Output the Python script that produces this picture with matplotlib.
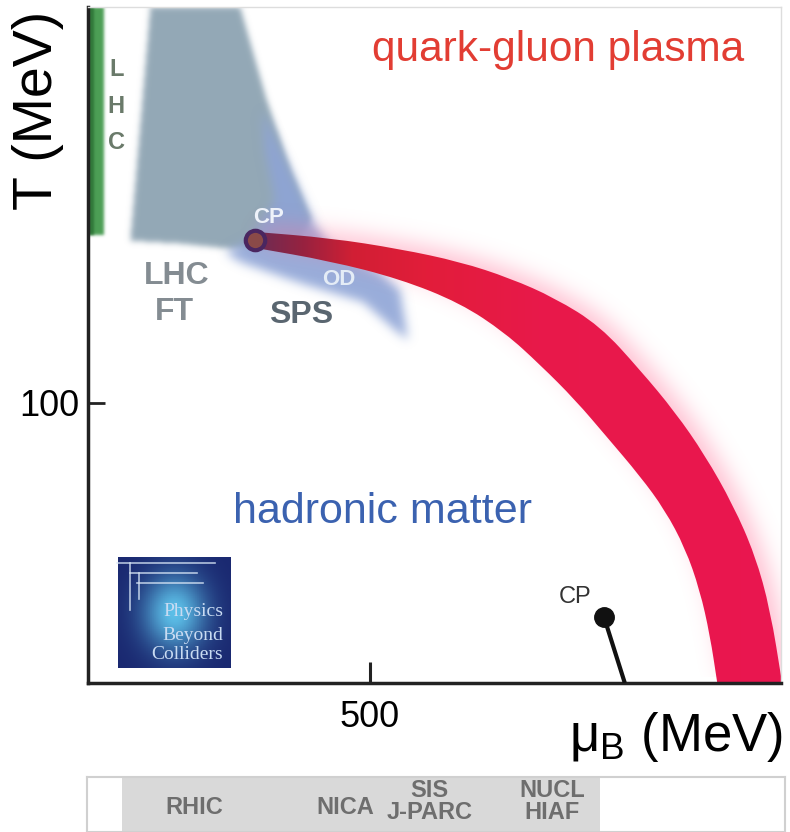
# QCD phase diagram sketch
import numpy as np
import matplotlib
matplotlib.use('Agg')
import matplotlib.pyplot as plt
from matplotlib.path import Path
from matplotlib.patches import PathPatch
from matplotlib.colors import to_rgb

plt.rcParams['font.family'] = ['Liberation Sans', 'DejaVu Sans']
plt.rcParams['mathtext.fontset'] = 'custom'
plt.rcParams['mathtext.rm'] = 'Liberation Sans'
plt.rcParams['mathtext.it'] = 'Liberation Sans'

# --- data (mu_B, T in MeV) ---
band_outer_mu = [296, 429, 553, 660, 748, 828, 908, 979, 1041, 1094, 1144, 1183, 1210, 1231]
band_outer_T = [161.1, 158.9, 155, 150.4, 144.6, 137.5, 127.5, 111.8, 96.8, 81.4, 63.6, 45.7, 26.1, 0]
band_inner_mu = [296, 429, 553, 660, 740, 802, 864, 920, 979, 1023, 1059, 1085, 1103, 1116]
band_inner_T = [155.4, 150.7, 144.3, 135.7, 125, 113.6, 101.1, 87.9, 73.9, 61.8, 48.2, 33.2, 17.1, 0]

lhcft_mu = [110, 269.5, 317, 358, 394, 376, 296, 257, 163, 74.5]
lhcft_T = [241.4, 241.4, 208, 184, 166, 158, 155, 155, 157, 158]

sps_mu = [308.5, 358.2, 402.5, 429, 517.7, 553.2, 567.4, 544.3, 487.6, 370.6, 269.5, 242.9, 287.2, 331.6, 313.8]
sps_T = [204.6, 183.2, 163.6, 156.4, 146.8, 140.4, 122.5, 126.1, 136.1, 143.2, 150.4, 153.9, 158.2, 172.5, 190.4]

lhc_mu = [0, 27, 27, 0]
lhc_T = [160, 160, 241.4, 241.4]

cp_qcd = (296, 158.2)
cp_nucl = (915, 23.6)
cp_nucl_foot = (952, 0)

facilities = ['RHIC', 'NICA', 'SIS\nJ-PARC', 'NUCL\nHIAF']
facility_mu = [188, 456, 606, 823]
facility_y = [0.44, 0.44, 0.55, 0.55]
facility_span = (60, 908)

X0, X1, Y0, Y1 = 0, 1229, 0, 241.4

fig = plt.figure(figsize=(7.9, 8.32), dpi=100)
ax = fig.add_axes([88/790, 1-683/832, (781-88)/790, (683-7)/832])
ax.set_xlim(X0, X1)
ax.set_ylim(Y0, Y1)

# raster grid for soft (blurred) regions
W, H = 693, 676
gx = np.linspace(X0, X1, W)
gy = np.linspace(Y0, Y1, H)
GX, GY = np.meshgrid(gx, gy)
pts = np.column_stack([GX.ravel(), GY.ravel()])


def blur(m, s):
    r = int(3*s)
    k = np.exp(-0.5*(np.arange(-r, r+1)/s)**2)
    k /= k.sum()
    m = np.apply_along_axis(lambda v: np.convolve(v, k, mode='same'), 0, m)
    m = np.apply_along_axis(lambda v: np.convolve(v, k, mode='same'), 1, m)
    return m


def shifted(m, dx, dy):
    out = np.zeros_like(m)
    out[dy:, dx:] = m[:H-dy, :W-dx]
    return out


def soft_fill(path, color, sigma, alpha, z, shift=(0, 0)):
    mask = path.contains_points(pts).reshape(H, W).astype(float)
    mask = blur(mask, sigma)
    if shift != (0, 0):
        mask = shifted(mask, *shift)
    rgba = np.zeros((H, W, 4))
    rgba[..., :3] = to_rgb(color)
    rgba[..., 3] = np.clip(mask, 0, 1)*alpha
    ax.imshow(rgba, extent=(X0, X1, Y0, Y1), origin='lower', aspect='auto',
              zorder=z, interpolation='bilinear')


def poly(xs, ys):
    return Path(np.column_stack([xs, ys]))


def smooth_part(xs, ys):
    # quadratic b-spline through the read points (ends kept)
    P = np.column_stack([xs, ys]).astype(float)
    mids = (P[:-1] + P[1:])/2
    verts = [P[0], mids[0]]
    codes = [Path.LINETO, Path.LINETO]
    for i in range(1, len(P)-1):
        verts += [P[i], mids[i]]
        codes += [Path.CURVE3, Path.CURVE3]
    verts.append(P[-1])
    codes.append(Path.LINETO)
    return verts, codes


v1, c1 = smooth_part(band_outer_mu, band_outer_T)
v2, c2 = smooth_part(band_inner_mu[::-1], band_inner_T[::-1])
c1[0] = Path.MOVETO
band_path = Path(v1 + v2 + [v1[0]], c1 + c2 + [Path.CLOSEPOLY])

# LHC (green strip)
soft_fill(poly(lhc_mu, lhc_T), '#4c9e55', 1.5, 1.0, 1)
soft_fill(poly([0, 9, 9, 0], lhc_T), '#2a6e33', 1.2, 0.8, 1.1)
# LHC FT region
soft_fill(poly(lhcft_mu, lhcft_T), '#93a8b6', 3, 1.0, 1.2)
# SPS region
soft_fill(poly(sps_mu, sps_T), '#8ea4d6', 5, 0.9, 1.3)
# glow around transition band
soft_fill(band_path, '#ff6b94', 11, 0.42, 1.4, shift=(8, 6))

# transition band with colour gradient
band = PathPatch(band_path, fc='none', ec='none')
ax.add_patch(band)
stop_mu = [296, 380, 470, 600, 800, 1230]
stop_col = np.array([to_rgb(c) for c in ['#6b2d55', '#962240', '#d11f34', '#e21d3a', '#e8194a', '#ea1650']])
grad = np.zeros((2, W, 3))
for c in range(3):
    grad[:, :, c] = np.interp(gx, stop_mu, stop_col[:, c])
im = ax.imshow(grad, extent=(X0, X1, Y0, Y1), origin='lower', aspect='auto', zorder=2,
               interpolation='bilinear')
im.set_clip_path(band)

# critical points
ax.plot(*cp_qcd, 'o', ms=14, mfc='#8a4a48', mec='#4a2660', mew=3, zorder=3)
ax.plot([cp_nucl[0], cp_nucl_foot[0]], [cp_nucl[1], cp_nucl_foot[1]], color='#111', lw=3, zorder=3,
        solid_capstyle='butt')
ax.plot(*cp_nucl, 'o', ms=14, color='#111', zorder=3)

# logo
logo = np.zeros((60, 60, 3))
yy, xx = np.mgrid[0:1:60j, 0:1:60j]
glow = np.exp(-((xx-0.5)**2/0.08 + (yy-0.5)**2/0.12))
for c, (a, b) in enumerate(zip(to_rgb('#1a2870'), to_rgb('#5cbfe8'))):
    logo[..., c] = a + (b-a)*glow
ax.imshow(logo, extent=(53, 252, 5.4, 45), origin='lower', aspect='auto', zorder=3)
for x0, x1, y in [(51, 225, 42.9), (74, 193, 39.3), (87, 204, 35.7)]:
    ax.plot([x0, x1], [y, y], color='#d8e6f6', lw=1.2, alpha=0.8, zorder=4)
ax.plot([74, 74], [42.9, 26], color='#d8e6f6', lw=1.2, alpha=0.8, zorder=4)
ax.plot([90, 90], [39.3, 30], color='#d8e6f6', lw=1.2, alpha=0.8, zorder=4)
for s, y in zip(['Physics', 'Beyond', 'Colliders'], [25.4, 17.1, 10]):
    ax.text(240, y, s, ha='right', va='center', fontsize=14, color='#c9dbf2',
            family='Liberation Serif', zorder=4)

# labels in the plot
ax.text(833, 226, 'quark-gluon plasma', ha='center', va='center', fontsize=30.5, color='#e23d33')
ax.text(523, 61, 'hadronic matter', ha='center', va='center', fontsize=31, color='#3b62b0')
for s, y in zip('LHC', [219, 206, 193]):
    ax.text(50, y, s, ha='center', va='center', fontsize=17, fontweight='bold', color='#6a7a6a', zorder=5)
ax.text(158, 145.4, 'LHC', ha='center', va='center', fontsize=23, fontweight='bold', color='#848c92', zorder=5)
ax.text(154, 132.5, 'FT', ha='center', va='center', fontsize=23, fontweight='bold', color='#848c92', zorder=5)
ax.text(378, 131.4, 'SPS', ha='center', va='center', fontsize=23, fontweight='bold', color='#5a6670', zorder=5)
ax.text(321, 166.4, 'CP', ha='center', va='center', fontsize=16, fontweight='bold', color='#eef2fa', zorder=5)
ax.text(445, 144, 'OD', ha='center', va='center', fontsize=16, fontweight='bold', color='#e4ecf6', zorder=5)
ax.text(863, 30.7, 'CP', ha='center', va='center', fontsize=17, color='#333333', zorder=5)

# axes styling
for s in ['top', 'right']:
    ax.spines[s].set_color('#dddddd')
    ax.spines[s].set_linewidth(1)
for s in ['left', 'bottom']:
    ax.spines[s].set_color('#222222')
    ax.spines[s].set_linewidth(2.5)
ax.set_xticks([500])
ax.set_yticks([100])
ax.tick_params(axis='x', direction='in', length=15, width=2.2, pad=12, labelsize=26, color='#222')
ax.tick_params(axis='y', direction='in', length=12, width=2, pad=6.5, labelsize=26, color='#222')

fig.text(38/790, 1-110/832, 'T (MeV)', rotation=90, ha='center', va='center', fontsize=40)
fig.text(783/790, 1-737/832, r'$\mathrm{\mu}_{\mathrm{B}}$ (MeV)', ha='right', va='center', fontsize=38)

# facility bar
ax2 = fig.add_axes([87/790, 0, (785-87)/790, (832-777)/832])
ax2.set_xlim((87-88)/0.5638, (785-88)/0.5638)
ax2.set_ylim(0, 1)
ax2.axvspan(*facility_span, color='#d9d9d9', lw=0)
for s in ax2.spines.values():
    s.set_color('#d0d0d0')
    s.set_linewidth(1.5)
ax2.set_xticks([])
ax2.set_yticks([])
for name, m, y in zip(facilities, facility_mu, facility_y):
    ax2.text(m, y, name, ha='center', va='center', fontsize=17, fontweight='bold', color='#6e6e6e',
             linespacing=0.95)

fig.savefig('out.png', dpi=100)
